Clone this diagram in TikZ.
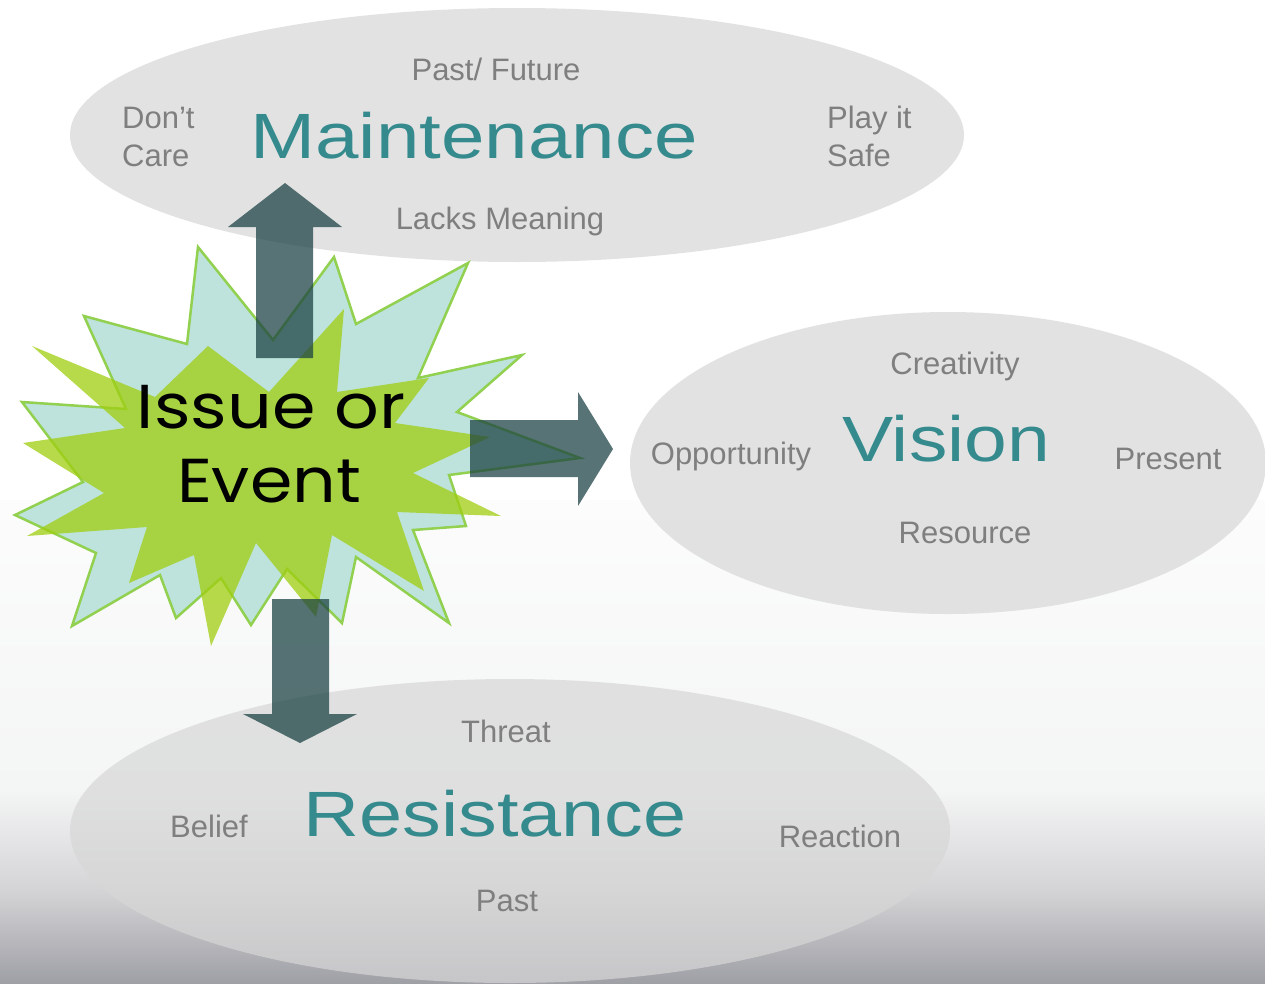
\documentclass[tikz,border=0pt]{standalone}
\usepackage{fontspec}
\usepackage{graphicx}
\setmainfont{Liberation Sans}
\newfontfamily\burstfont{Poppins}
\usetikzlibrary{shapes.geometric}

\definecolor{ovalgray}{RGB}{215,215,215}
\definecolor{wordgray}{RGB}{127,127,127}
\definecolor{titleteal}{RGB}{52,138,141}
\definecolor{arrowslate}{RGB}{25,64,66}
\definecolor{burstteal}{RGB}{189,227,220}
\definecolor{burstgreen}{RGB}{160,206,16}
\definecolor{burstline}{RGB}{146,208,80}
\definecolor{bgtop}{RGB}{252,252,252}
\definecolor{bgmid}{RGB}{244,245,245}
\definecolor{bglow}{RGB}{212,212,214}
\definecolor{bgbottom}{RGB}{159,160,166}

\tikzset{
  oval/.style={ellipse, fill=ovalgray, fill opacity=0.7, inner sep=0pt},
  word/.style={text=wordgray, font=\fontsize{31}{36}\selectfont, anchor=base, inner sep=0pt},
  title/.style={text=titleteal, font=\fontsize{64}{70}\selectfont, anchor=base, inner sep=0pt},
  burstword/.style={font=\burstfont\fontsize{62}{74}\selectfont, anchor=base, inner sep=0pt},
  blockarrow/.style={fill=arrowslate, fill opacity=0.73},
}

\begin{document}
\begin{tikzpicture}[x=1pt, y=-1pt]
  \useasboundingbox (0,0) rectangle (1265,983);
  % background
  \fill[white] (0,0) rectangle (1265,500);
  \shade[top color=bgtop, bottom color=bgmid] (0,500) rectangle (1265,790);
  \shade[top color=bgmid, bottom color=bglow] (0,790) rectangle (1265,890);
  \shade[top color=bglow, bottom color=bgbottom] (0,890) rectangle (1265,983);

  % the three ovals
  \node[oval, minimum width=894, minimum height=254] (maint) at (517,135) {};
  \node[oval, minimum width=636, minimum height=302] (vision) at (948,463) {};
  \node[oval, minimum width=880, minimum height=304] (resist) at (510,831) {};

  % Maintenance
  \node[title] (maintitle) at (474,158) {\scalebox{1.22}[1]{Maintenance}};
  \node[word] (pastfuture) at (496,80) {Past/ Future};
  \node[word] (lacks) at (500,229) {Lacks Meaning};
  \node[word, anchor=base west] (dont) at (122,128) {Don’t};
  \node[word, anchor=base west] (care) at (122,166) {Care};
  \node[word, anchor=base west] (play) at (827,128) {Play it};
  \node[word, anchor=base west] (safe) at (827,166) {Safe};

  % Vision
  \node[title] (vistitle) at (946,461) {\scalebox{1.2}[1]{Vision}};
  \node[word] (creat) at (955,374) {Creativity};
  \node[word] (opport) at (731,464) {Opportunity};
  \node[word] (present) at (1168,469) {Present};
  \node[word] (resource) at (965,543) {Resource};

  % Resistance
  \node[title] (restitle) at (495,836) {\scalebox{1.21}[1]{Resistance}};
  \node[word] (threat) at (506,742) {Threat};
  \node[word] (belief) at (209,837) {Belief};
  \node[word] (reaction) at (840,847) {Reaction};
  \node[word] (past) at (507,911) {Past};

  % the burst
  \filldraw[fill=burstteal, draw=burstline, line width=2.5pt, line join=miter]
    (198,247) -- (273,340) -- (334,257) -- (356,324) -- (468,263) -- (418,378)
    -- (522,355) -- (457,412) -- (580,458) -- (449,475) -- (466,526) -- (413,530)
    -- (449,623) -- (356,557) -- (342,623) -- (287,569) -- (251,625) -- (221,578)
    -- (176,618) -- (160,575) -- (72,626) -- (96,553) -- (15,515) -- (83,482)
    -- (22,402) -- (126,409) -- (84,316) -- (187,344) -- cycle;
  \fill[burstgreen, fill opacity=0.75]
    (344,309) -- (337,392) -- (429,378) -- (395,423) -- (490,437) -- (413,473)
    -- (501,516) -- (397,512) -- (424,591) -- (332,535) -- (316,617) -- (256,543)
    -- (211,646) -- (194,555) -- (129,583) -- (147,527) -- (27,536) -- (104,493)
    -- (23,443) -- (125,428) -- (32,346) -- (155,397) -- (208,346) -- (269,392) -- cycle;
  \node[burstword] (issue) at (271,428) {\scalebox{1.13}[1]{Issue or}};
  \node[burstword] (event) at (269,502) {\scalebox{1.1}[1]{Event}};

  % block arrows
  \fill[blockarrow] (256,358) -- (256,227) -- (228,227) -- (285,183) -- (342,227) -- (313,227) -- (313,358) -- cycle;
  \fill[blockarrow] (470,420) -- (578,420) -- (578,392) -- (613,449) -- (578,506) -- (578,477) -- (470,477) -- cycle;
  \fill[blockarrow] (272,599) -- (329,599) -- (329,714) -- (357,714) -- (300,743) -- (243,714) -- (272,714) -- cycle;
\end{tikzpicture}
\end{document}
